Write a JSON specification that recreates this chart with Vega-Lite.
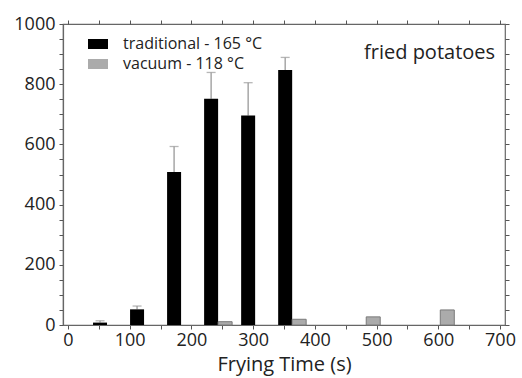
{
  "$schema": "https://vega.github.io/schema/vega-lite/v6.json",
  "width": 442,
  "height": 301,
  "autosize": "none",
  "padding": {"left": 63, "top": 24, "right": 17, "bottom": 53},
  "background": "white",
  "config": {
    "font": "Open Sans",
    "view": {"stroke": "#666", "strokeWidth": 1.2},
    "axis": {
      "domainColor": "#666",
      "domainWidth": 1.2,
      "tickColor": "#555",
      "tickSize": 4,
      "labelColor": "#222",
      "labelFontSize": 18,
      "grid": false,
      "titleColor": "#222",
      "titleFontWeight": "normal"
    }
  },
  "datasets": {
    "bars": [
      {"time": 60, "series": "traditional - 165 °C", "value": 8, "upper": 14},
      {"time": 120, "series": "traditional - 165 °C", "value": 52, "upper": 63},
      {"time": 180, "series": "traditional - 165 °C", "value": 508, "upper": 593},
      {"time": 240, "series": "traditional - 165 °C", "value": 752, "upper": 839},
      {"time": 300, "series": "traditional - 165 °C", "value": 696, "upper": 805},
      {"time": 360, "series": "traditional - 165 °C", "value": 847, "upper": 889},
      {"time": 240, "series": "vacuum - 118 °C", "value": 11, "upper": 11},
      {"time": 360, "series": "vacuum - 118 °C", "value": 19, "upper": 19},
      {"time": 480, "series": "vacuum - 118 °C", "value": 27, "upper": 27},
      {"time": 600, "series": "vacuum - 118 °C", "value": 50, "upper": 50}
    ],
    "label": [{"text": "fried potatoes", "time": 692, "value": 884}]
  },
  "resolve": {"axis": {"x": "independent", "y": "independent"}},
  "layer": [
    {
      "data": {"name": "bars"},
      "transform": [{"filter": "datum.series === 'traditional - 165 °C'"}],
      "mark": {"type": "rule", "color": "#999", "strokeWidth": 1.3, "xOffset": -5},
      "encoding": {
        "x": {"field": "time", "type": "quantitative", "scale": {"domain": [0, 700], "nice": false}, "axis": null},
        "y": {"field": "value", "type": "quantitative", "scale": {"domain": [0, 1000], "nice": false}, "axis": null},
        "y2": {"field": "upper"}
      }
    },
    {
      "data": {"name": "bars"},
      "transform": [{"filter": "datum.series === 'traditional - 165 °C'"}],
      "mark": {"type": "tick", "orient": "horizontal", "color": "#999", "size": 9, "thickness": 1.3, "xOffset": -5},
      "encoding": {
        "x": {"field": "time", "type": "quantitative", "axis": null},
        "y": {"field": "upper", "type": "quantitative", "axis": null}
      }
    },
    {
      "data": {"name": "bars"},
      "transform": [{"filter": "datum.series === 'traditional - 165 °C'"}],
      "mark": {"type": "bar", "width": 14, "xOffset": -5},
      "encoding": {
        "x": {
          "field": "time", "type": "quantitative",
          "title": "Frying Time (s)",
          "axis": {
            "orient": "bottom",
            "values": [0, 50, 100, 150, 200, 250, 300, 350, 400, 450, 500, 550, 600, 650, 700],
            "labelExpr": "datum.value % 100 === 0 ? datum.label : ''",
            "labelPadding": 2,
            "titleFontSize": 20,
            "titlePadding": 5,
            "labelFlush": false
          }
        },
        "y": {
          "field": "value", "type": "quantitative",
          "title": null,
          "axis": {
            "orient": "left",
            "values": [0, 50, 100, 150, 200, 250, 300, 350, 400, 450, 500, 550, 600, 650, 700, 750, 800, 850, 900, 950, 1000],
            "labelExpr": "datum.value % 200 === 0 ? datum.label : ''",
            "labelPadding": 4,
            "labelFlush": false,
            "format": "d"
          }
        },
        "color": {
          "field": "series", "type": "nominal",
          "scale": {"domain": ["traditional - 165 °C", "vacuum - 118 °C"], "range": ["#000000", "#ababab"]},
          "legend": {
            "title": null,
            "orient": "none",
            "legendX": 25,
            "legendY": 10,
            "symbolType": "M-1,-0.5H1V0.5H-1Z",
            "symbolSize": 400,
            "symbolStrokeWidth": 0,
            "labelFontSize": 16,
            "labelColor": "#222",
            "labelOffset": 15,
            "rowPadding": 2,
            "padding": 0
          }
        }
      }
    },
    {
      "data": {"name": "bars"},
      "transform": [{"filter": "datum.series === 'vacuum - 118 °C'"}],
      "mark": {"type": "bar", "width": 14, "xOffset": 9, "stroke": "#7a7a7a", "strokeWidth": 1},
      "encoding": {
        "x": {
          "field": "time", "type": "quantitative",
          "axis": {
            "orient": "top",
            "title": null,
            "values": [0, 50, 100, 150, 200, 250, 300, 350, 400, 450, 500, 550, 600, 650, 700],
            "labels": false,
            "domain": false
          }
        },
        "y": {
          "field": "value", "type": "quantitative",
          "axis": {
            "orient": "right",
            "title": null,
            "values": [0, 50, 100, 150, 200, 250, 300, 350, 400, 450, 500, 550, 600, 650, 700, 750, 800, 850, 900, 950, 1000],
            "labels": false,
            "domain": false
          }
        },
        "color": {"field": "series", "type": "nominal"}
      }
    },
    {
      "data": {"name": "label"},
      "mark": {"type": "text", "align": "right", "baseline": "alphabetic", "fontSize": 20, "color": "#222"},
      "encoding": {
        "x": {"field": "time", "type": "quantitative", "axis": null},
        "y": {"field": "value", "type": "quantitative", "axis": null},
        "text": {"field": "text"}
      }
    }
  ]
}
